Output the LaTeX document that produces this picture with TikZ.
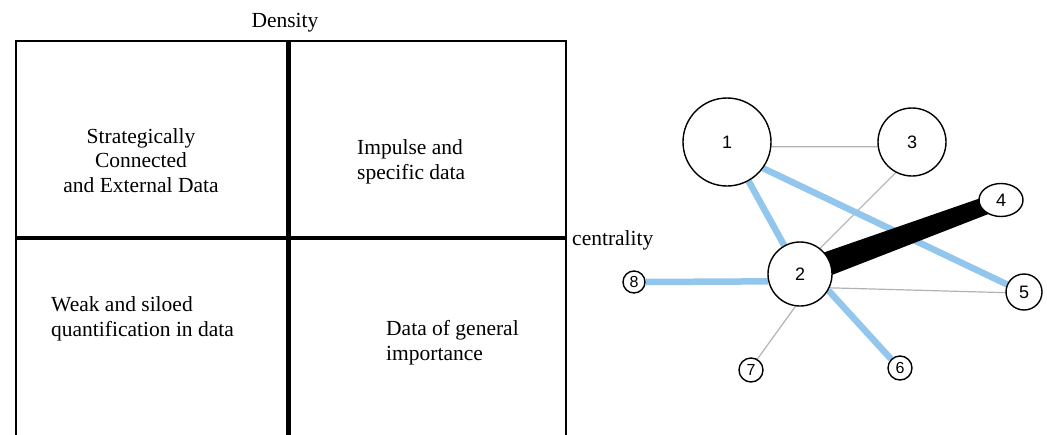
\documentclass[tikz,border=0pt]{standalone}
\usepackage{fontspec}
\setmainfont{Liberation Serif}
\newfontfamily\digitfont{Liberation Sans}
\usetikzlibrary{calc,shapes.geometric}
\pgfdeclarelayer{edges}
\pgfsetlayers{edges,main}
\definecolor{edgeblue}{RGB}{146,198,236}
\definecolor{edgegray}{RGB}{178,178,178}

\begin{document}
\begin{tikzpicture}[x=1pt,y=-1pt,
  frame/.style={line width=1.6pt},
  axisline/.style={line width=4.5pt},
  quadtext/.style={font=\fontsize{21.5}{24.5}\selectfont, inner sep=0pt},
  vertex/.style={circle, draw, line width=1.4pt, fill=white, inner sep=0pt,
    font=\digitfont\fontsize{18}{18}\selectfont},
  smallvertex/.style={vertex, font=\digitfont\fontsize{16}{16}\selectfont},
  weaklink/.style={edgegray, line width=1.2pt},
  stronglink/.style={edgeblue, line width=6.5pt},
]
\useasboundingbox (0,0) rectangle (1047,434);

% quadrant frame and axes
\begin{scope}
  \clip (0,0) rectangle (1047,434);
  \draw[frame] (16,440) -- (16,41) -- (566,41) -- (566,440);
  \draw[axisline] (288.5,41) -- (288.5,440);
  \draw[axisline] (16,238) -- (566,238);
\end{scope}

% axis names and quadrant labels (multi-line nodes sit on their last baseline)
\node[quadtext, anchor=base] (density) at (285,27) {Density};
\node[quadtext, anchor=base west] (centrality) at (572,245) {centrality};
\node[quadtext, align=center, anchor=base] (q1) at (141,192)
  {Strategically\\Connected\\and External Data};
\node[quadtext, align=left, anchor=base west] (q2) at (357,179)
  {Impulse and\\specific data};
\node[quadtext, align=left, anchor=base west] (q3) at (51,336)
  {Weak and siloed\\quantification in data};
\node[quadtext, align=left, anchor=base west] (q4) at (386,360)
  {Data of general\\importance};

% network
\node[vertex, minimum size=88pt] (n1) at (727,142) {1};
\node[vertex, minimum size=64pt] (n2) at (800,274) {2};
\node[vertex, minimum size=68pt] (n3) at (912,142) {3};
\node[vertex, ellipse, minimum width=44pt, minimum height=33pt] (n4) at (1001,200) {4};
\node[vertex, minimum size=36pt] (n5) at (1024,292) {5};
\node[smallvertex, minimum size=24pt] (n6) at (900,368) {6};
\node[smallvertex, minimum size=24pt] (n7) at (751,370) {7};
\node[smallvertex, minimum size=22pt] (n8) at (634,282) {8};

\begin{pgfonlayer}{edges}
  \draw[weaklink] (n1.-6.5) -- (n3.188.5);
  \draw[weaklink] (n3.242) -- (n2.52);
  \draw[weaklink] (n2.-25) -- (n5.182);
  \draw[weaklink] (n2.-98) -- (n7.60);
  \draw[stronglink] (n1) -- (n2);
  \draw[stronglink] (n1.-36) -- (n5.156);
  \draw[stronglink] (n8.east) -- (n2.193);
  \draw[stronglink] (n2.-30) -- (n6.135);
  % tapered heavy link 2--4
  \fill ($(n2)!12.5pt!90:(n4)$) -- ($(n4)!8.5pt!-90:(n2)$)
     -- ($(n4)!8.5pt!90:(n2)$) -- ($(n2)!12.5pt!-90:(n4)$) -- cycle;
\end{pgfonlayer}
\end{tikzpicture}
\end{document}
